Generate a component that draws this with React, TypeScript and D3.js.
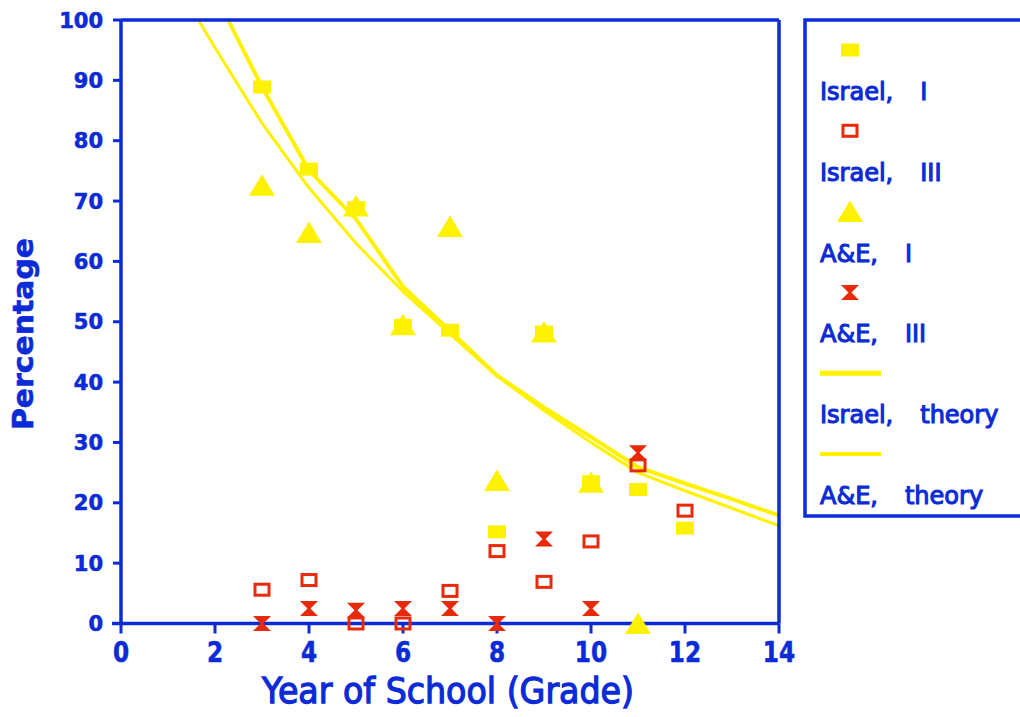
import React from 'react';
import * as d3 from 'd3';

// ---------- data ----------
const grades = [3, 4, 5, 6, 7, 8, 9, 10, 11, 12];
const israelI = [88.9, 75.3, 68.9, 49.4, 48.6, 15.2, 48.3, 23.5, 22.2, 15.8];
const israelIII = [5.6, 7.2, 0, 0, 5.4, 12.0, 6.9, 13.6, 26.2, 18.7];
const aeGrades = [3, 4, 5, 6, 7, 8, 9, 10, 11];
const aeI = [72.6, 64.8, 69.2, 49.5, 65.8, 23.7, 48.3, 23.4, 0];
const aeIII = [0, 2.5, 2.2, 2.5, 2.5, 0, 14.0, 2.5, 28.3];

const israelTheoryX = [2, 3, 4, 5, 6, 7, 8, 9, 10, 11, 12, 13, 14];
const israelTheory = [104.3, 88.9, 75.1, 67.0, 55.8, 48.5, 41.1, 35.8, 30.9, 25.9, 23.2, 20.6, 17.9];
const aeTheoryX = [1, 2, 3, 4, 5, 6, 7, 8, 9, 10, 11, 12, 13, 14];
const aeTheory = [108.5, 95.4, 82.9, 72.2, 63.0, 55.0, 48.0, 41.0, 35.3, 30.0, 25.0, 22.0, 19.1, 16.2];

const xTicks = [0, 2, 4, 6, 8, 10, 12, 14];
const yTicks = [0, 10, 20, 30, 40, 50, 60, 70, 80, 90, 100];

const legendLabels = [
  ['Israel,', 'I'],
  ['Israel,', 'III'],
  ['A&E,', 'I'],
  ['A&E,', 'III'],
  ['Israel,', 'theory'],
  ['A&E,', 'theory'],
];

const xTitle = 'Year of School (Grade)';
const yTitle = 'Percentage';

// ---------- style ----------
const BLUE = '#0b2bd6';
const YELLOW = '#fff200';
const RED = '#e62a0a';
const FONT = '"DejaVu Sans", Verdana, sans-serif';

const W = 1020;
const H = 717;
const L = 121, R = 779, T = 20, B = 623.5;

const x = d3.scaleLinear().domain([0, 14]).range([L, R]);
const y = d3.scaleLinear().domain([0, 100]).range([B, T]);

type Kind = 'fsq' | 'osq' | 'tri' | 'bow';

function Marker({ kind, cx, cy }: { kind: Kind; cx: number; cy: number }) {
  if (kind === 'fsq') return <rect x={cx - 9} y={cy - 6.5} width={18} height={13} fill={YELLOW} />;
  if (kind === 'osq')
    return <rect x={cx - 7} y={cy - 5.5} width={14} height={11} fill="none" stroke={RED} strokeWidth={3} />;
  if (kind === 'tri')
    return <path transform={`translate(${cx},${cy})`} d="M0,-11 L13,10.5 L-13,10.5 Z" fill={YELLOW} />;
  return (
    <path
      transform={`translate(${cx},${cy})`}
      d="M-9,-7.5 H9 L1.5,0 L9,7.5 H-9 L-1.5,0 Z"
      fill={RED}
    />
  );
}

export default function App() {
  const lineIsrael = d3
    .line<number>()
    .x((_, i) => x(israelTheoryX[i]))
    .y((d) => y(d))(israelTheory) as string;
  const lineAE = d3
    .line<number>()
    .x((_, i) => x(aeTheoryX[i]))
    .y((d) => y(d))(aeTheory) as string;

  const legendKinds: (Kind | 'line')[] = ['fsq', 'osq', 'tri', 'bow', 'line', 'line'];
  const legendLineW = [5, 4];
  const legendTop = 50;
  const legendStep = 80.8;

  return (
    <svg
      width={W}
      height={H}
      style={{ position: 'absolute', left: 0, top: 0, display: 'block', background: '#fff' }}
    >
      <defs>
        <clipPath id="plotclip">
          <rect x={L} y={T} width={R - L} height={B - T} />
        </clipPath>
      </defs>

      {/* theory curves */}
      <g clipPath="url(#plotclip)" fill="none" stroke={YELLOW} strokeLinejoin="round">
        <path d={lineAE} strokeWidth={3} />
        <path d={lineIsrael} strokeWidth={4} />
      </g>

      {/* frame & axes */}
      <g stroke={BLUE} strokeWidth={3.5} fill="none">
        <line x1={L} y1={T} x2={L} y2={B} />
        <line x1={L} y1={T} x2={R} y2={T} />
        <line x1={R} y1={T} x2={R} y2={B} />
        <line x1={112} y1={B} x2={R} y2={B} />
      </g>
      <g stroke={BLUE} strokeWidth={3}>
        {yTicks.map((t) => (
          <line key={t} x1={113} x2={L} y1={y(t)} y2={y(t)} />
        ))}
        {xTicks.map((t) => (
          <line key={t} x1={x(t)} x2={x(t)} y1={B} y2={B + 10} />
        ))}
      </g>

      {/* tick labels */}
      <g fill={BLUE} stroke={BLUE} strokeWidth={0.6} fontFamily={FONT} fontWeight="bold" fontSize={21}>
        {yTicks.map((t) => (
          <text key={t} x={103} y={y(t)} dy="0.36em" textAnchor="end">
            {t}
          </text>
        ))}
      </g>
      <g fill={BLUE} stroke={BLUE} strokeWidth={0.6} fontFamily={FONT} fontWeight="bold" fontSize={29}>
        {xTicks.map((t) => (
          <text key={t} transform={`translate(${x(t)},662) scale(0.8,1)`} textAnchor="middle">
            {t}
          </text>
        ))}
      </g>

      {/* axis titles */}
      <text
        x={262}
        y={703}
        fill={BLUE}
        stroke={BLUE}
        strokeWidth={1.3}
        fontFamily={FONT}
        fontSize={36}
        textLength={372}
        lengthAdjust="spacingAndGlyphs"
      >
        {xTitle}
      </text>
      <text
        transform="translate(33,430) rotate(-90)"
        fill={BLUE}
        stroke={BLUE}
        strokeWidth={0.6}
        fontFamily={FONT}
        fontWeight="bold"
        fontSize={29}
        textLength={192}
        lengthAdjust="spacingAndGlyphs"
      >
        {yTitle}
      </text>

      {/* markers */}
      <g>
        {grades.map((g, i) => (
          <Marker key={'is' + g} kind="fsq" cx={x(g)} cy={y(israelI[i])} />
        ))}
        {aeGrades.map((g, i) => (
          <Marker key={'at' + g} kind="tri" cx={x(g)} cy={y(aeI[i])} />
        ))}
        {grades.map((g, i) => (
          <Marker key={'io' + g} kind="osq" cx={x(g)} cy={y(israelIII[i])} />
        ))}
        {aeGrades.map((g, i) => (
          <Marker key={'ab' + g} kind="bow" cx={x(g)} cy={y(aeIII[i])} />
        ))}
      </g>

      {/* legend */}
      <rect x={805} y={20} width={240} height={496} fill="none" stroke={BLUE} strokeWidth={3.5} />
      {legendLabels.map((lab, i) => {
        const my = legendTop + i * legendStep;
        const k = legendKinds[i];
        return (
          <g key={i}>
            {k === 'line' ? (
              <line x1={820} x2={881} y1={my} y2={my} stroke={YELLOW} strokeWidth={legendLineW[i - 4]} />
            ) : (
              <Marker kind={k} cx={850} cy={my} />
            )}
            <text
              x={820}
              y={my + 50}
              fill={BLUE}
              stroke={BLUE}
              strokeWidth={1.1}
              fontFamily={FONT}
              fontSize={24}
            >
              <tspan>{lab[0]}</tspan>
              <tspan dx={27}>{lab[1]}</tspan>
            </text>
          </g>
        );
      })}
    </svg>
  );
}
